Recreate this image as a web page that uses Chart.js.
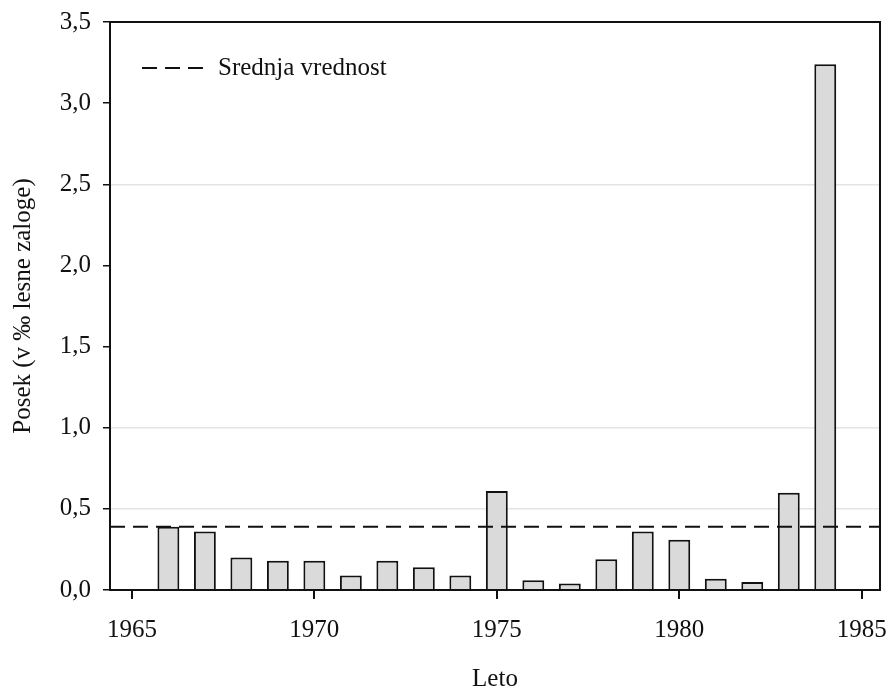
<!DOCTYPE html>
<html>
<head>
<meta charset="utf-8">
<script src="https://cdn.jsdelivr.net/npm/chart.js@4"></script>
<style>
  html, body { margin: 0; padding: 0; background: #fff; }
  #wrap { width: 892px; height: 694px; }
</style>
</head>
<body>
<div id="wrap"><canvas id="posek"></canvas></div>
<script>
// podatki odčitani s slike
const years = [1966, 1967, 1968, 1969, 1970, 1971, 1972, 1973, 1974, 1975,
               1976, 1977, 1978, 1979, 1980, 1981, 1982, 1983, 1984];
const posek = [0.39, 0.36, 0.20, 0.18, 0.18, 0.09, 0.18, 0.14, 0.09, 0.61,
               0.06, 0.04, 0.19, 0.36, 0.31, 0.07, 0.05, 0.60, 3.24];
const srednja = 0.39;
const xMin = 1964.4, xMax = 1985.5;
const yTicks = [0, 0.5, 1.0, 1.5, 2.0, 2.5, 3.0, 3.5];
const xTicks = [1965, 1970, 1975, 1980, 1985];
const fadedGrid = [0.5, 1.0, 2.5];

const serif = "'Liberation Serif', 'DejaVu Serif', serif";

// okvir okoli grafa + legenda za povprečje
const frameAndLegend = {
    id: 'frameAndLegend',
    afterDraw(chart) {
        const { ctx, chartArea: a } = chart;
        ctx.save();
        ctx.strokeStyle = '#111';
        ctx.lineWidth = 2;
        ctx.strokeRect(a.left, a.top, a.right - a.left, a.bottom - a.top);

        const ly = a.top + 46;
        ctx.setLineDash([15, 8]);
        ctx.lineWidth = 2;
        ctx.beginPath();
        ctx.moveTo(a.left + 32, ly);
        ctx.lineTo(a.left + 94, ly);
        ctx.stroke();
        ctx.setLineDash([]);
        ctx.fillStyle = '#111';
        ctx.font = '25px ' + serif;
        ctx.textBaseline = 'middle';
        ctx.fillText('Srednja vrednost', a.left + 108, ly);
        ctx.restore();
    }
};

function chartInit(id) {
    const ctx = document.getElementById(id).getContext('2d');
    return new Chart(ctx, {
        data: {
            datasets: [{
                type: 'line',
                label: 'Srednja vrednost',
                data: [{ x: xMin, y: srednja }, { x: xMax, y: srednja }],
                borderColor: '#111',
                borderWidth: 2,
                borderDash: [15, 8],
                pointRadius: 0,
                order: 0
            }, {
                type: 'bar',
                label: 'Posek',
                data: years.map((y, i) => ({ x: y, y: posek[i] })),
                backgroundColor: '#dadada',
                borderColor: '#111',
                borderWidth: 2,
                barPercentage: 0.6,
                categoryPercentage: 1,
                order: 1
            }]
        },
        options: {
            responsive: true,
            maintainAspectRatio: false,
            animation: false,
            layout: { padding: { top: 22, right: 12, left: 0, bottom: 0 } },
            plugins: {
                legend: { display: false },
                tooltip: { enabled: false }
            },
            scales: {
                x: {
                    type: 'linear',
                    min: xMin,
                    max: xMax,
                    offset: false,
                    afterBuildTicks: (axis) => { axis.ticks = xTicks.map(v => ({ value: v })); },
                    afterFit: (axis) => {
                        axis.height = 104;
                        axis.paddingRight = 0;
                        axis.paddingLeft = 0;
                    },
                    border: { display: false },
                    grid: { offset: false, drawOnChartArea: false, tickColor: '#111', tickLength: 9, lineWidth: 2 },
                    ticks: {
                        color: '#111',
                        padding: 16,
                        font: { family: serif, size: 25 },
                        callback: (v) => String(v)
                    },
                    title: {
                        display: true,
                        text: 'Leto',
                        color: '#111',
                        font: { family: serif, size: 25 },
                        padding: { top: 22, bottom: 0 }
                    }
                },
                y: {
                    min: 0,
                    max: 3.5,
                    afterBuildTicks: (axis) => { axis.ticks = yTicks.map(v => ({ value: v })); },
                    afterFit: (axis) => {
                        axis.width = 110;
                        axis.paddingTop = 0;
                        axis.paddingBottom = 0;
                    },
                    border: { display: false },
                    grid: {
                        color: (c) => fadedGrid.includes(c.tick && c.tick.value) ? '#e4e4e4' : 'rgba(0,0,0,0)',
                        tickColor: '#111',
                        tickLength: 7,
                        lineWidth: 1.5
                    },
                    ticks: {
                        color: '#111',
                        padding: 12,
                        font: { family: serif, size: 25 },
                        callback: (v) => v.toFixed(1).replace('.', ',')
                    },
                    title: {
                        display: true,
                        text: 'Posek (v ‰ lesne zaloge)',
                        color: '#111',
                        font: { family: serif, size: 25 },
                        padding: { top: 8, bottom: 0 }
                    }
                }
            }
        },
        plugins: [frameAndLegend]
    });
}

chartInit('posek');
</script>
</body>
</html>
